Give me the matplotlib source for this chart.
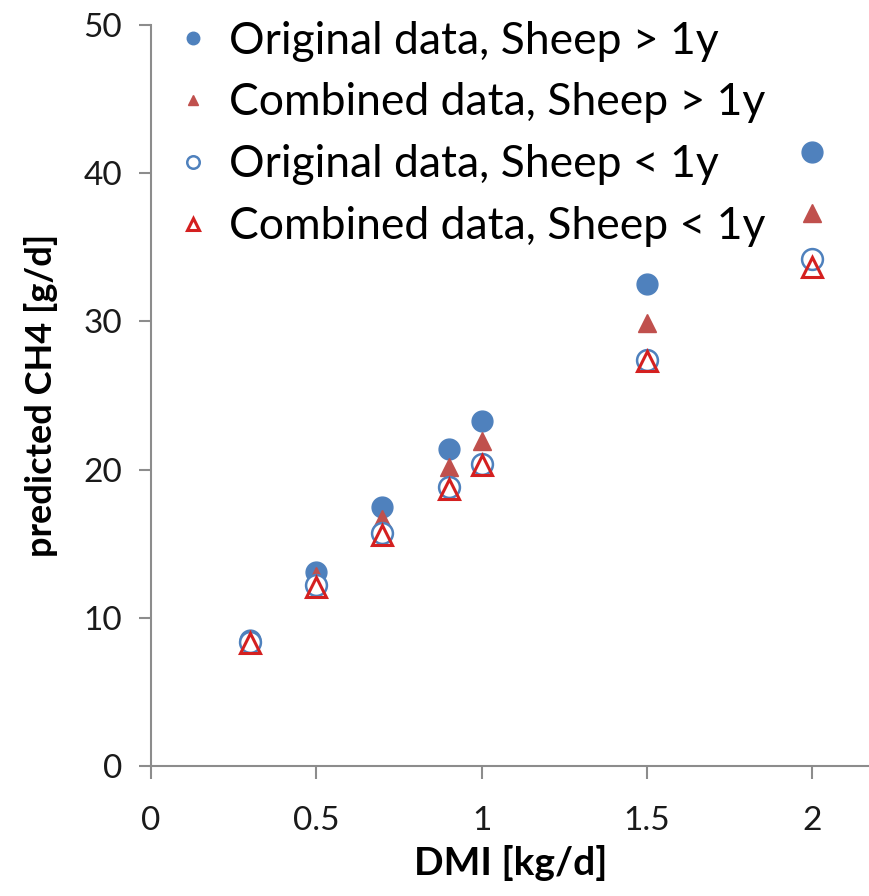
import matplotlib
matplotlib.use("Agg")
import matplotlib.pyplot as plt

dmi = [0.3, 0.5, 0.7, 0.9, 1.0, 1.5, 2.0]
orig_old = [8.5, 13.1, 17.5, 21.4, 23.3, 32.5, 41.4]
comb_old = [8.6, 12.8, 16.7, 20.2, 21.9, 29.9, 37.3]
orig_young = [8.4, 12.2, 15.7, 18.8, 20.4, 27.4, 34.2]
comb_young = [8.3, 12.1, 15.6, 18.7, 20.3, 27.3, 33.7]
labels = ["Original data, Sheep > 1y", "Combined data, Sheep > 1y",
          "Original data, Sheep < 1y", "Combined data, Sheep < 1y"]
xticks = [0, 0.5, 1, 1.5, 2]
yticks = [0, 10, 20, 30, 40, 50]

fig = plt.figure(figsize=(8.7, 8.96), dpi=100)
ax = fig.add_axes([151/870, 1 - 766/896, 1 - 151/870, (766 - 25) / 896])

blue = "#4F81BD"
red = "#C0504D"
red2 = "#D42020"

ax.plot(dmi, orig_old, linestyle="none", marker="o", ms=15, mfc=blue, mec=blue,
        label=labels[0], zorder=3)
ax.plot(dmi, comb_old, linestyle="none", marker="^", ms=13, mfc=red, mec=red,
        label=labels[1], zorder=4)
ax.plot(dmi, orig_young, linestyle="none", marker="o", ms=15, mfc="white", mec=blue,
        mew=1.8, label=labels[2], zorder=5)
ax.plot(dmi, comb_young, linestyle="none", marker="^", ms=14, mfc="none", mec=red2,
        mew=2.2, label=labels[3], zorder=6)

ax.set_xlim(0, 2.175)
ax.set_ylim(0, 50)
ax.set_xticks(xticks)
ax.set_xticklabels(["0", "0.5", "1", "1.5", "2"])
ax.set_yticks(yticks)

for s in ["top", "right"]:
    ax.spines[s].set_visible(False)
for s in ["left", "bottom"]:
    ax.spines[s].set_color("#8C8C8C")
    ax.spines[s].set_linewidth(1.5)
ax.tick_params(axis="both", direction="out", color="#8C8C8C", width=1.5, length=9)
ax.tick_params(axis="x", pad=20)
ax.tick_params(axis="y", pad=12)

for t in ax.get_xticklabels() + ax.get_yticklabels():
    t.set_fontfamily("Lato")
    t.set_fontsize(24)
    t.set_color("#1a1a1a")

ax.set_xlabel("DMI [kg/d]", fontsize=28, fontweight="bold", family="Lato", labelpad=6)
ax.set_ylabel("predicted CH4 [g/d]", fontsize=26, fontweight="bold", family="Lato", labelpad=18)

leg = ax.legend(loc="upper left", bbox_to_anchor=(-0.028, 1.06), frameon=False,
                prop={"family": "Lato", "size": 32}, markerscale=0.6,
                handletextpad=0.3, labelspacing=0.47, handlelength=1.0)

fig.savefig("out.png", dpi=100)
